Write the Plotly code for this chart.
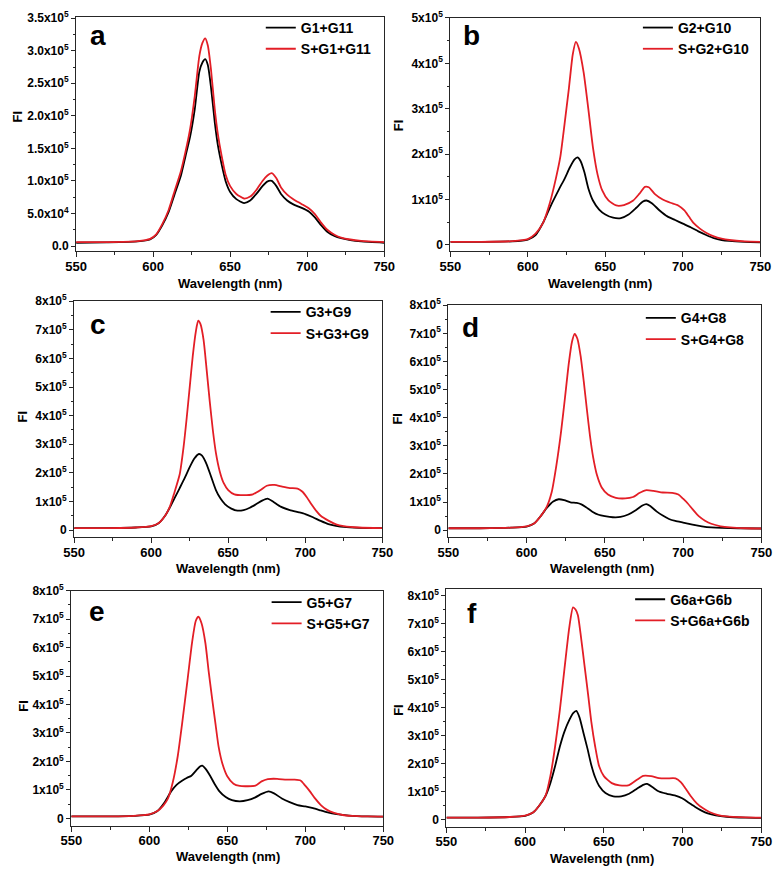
import plotly.graph_objects as go

SCALE = 1e5  # values below are FI in units of 1e5

# ---------------- Panel a ----------------
a_black_wl = [550, 570, 590, 598, 602, 606, 610, 614, 618, 621, 624, 627, 630, 632, 633.8, 635.5, 637.5, 640, 642, 644.5, 647, 650, 654, 659, 663, 667, 671, 674, 677, 680, 683, 687, 691, 696, 701, 705, 709, 713, 718, 722, 728, 735, 750]
a_black_fi = [0.05, 0.055, 0.07, 0.1, 0.17, 0.32, 0.52, 0.8, 1.08, 1.38, 1.68, 2.1, 2.68, 2.82, 2.87, 2.78, 2.45, 1.9, 1.55, 1.25, 1.0, 0.83, 0.72, 0.66, 0.7, 0.8, 0.92, 0.99, 1.0, 0.92, 0.8, 0.7, 0.64, 0.59, 0.53, 0.44, 0.32, 0.22, 0.15, 0.12, 0.09, 0.07, 0.05]
a_red_wl = a_black_wl
a_red_fi = [0.06, 0.06, 0.075, 0.11, 0.18, 0.34, 0.55, 0.85, 1.15, 1.45, 1.8, 2.3, 2.92, 3.12, 3.19, 3.08, 2.72, 2.1, 1.72, 1.38, 1.1, 0.92, 0.8, 0.73, 0.76, 0.86, 1.0, 1.08, 1.12, 1.04, 0.9, 0.79, 0.72, 0.65, 0.58, 0.49, 0.36, 0.25, 0.17, 0.13, 0.1, 0.08, 0.06]

# ---------------- Panel b ----------------
b_black_wl = [550, 570, 590, 600, 605, 610, 615, 620, 624, 627, 630, 632, 634, 636.5, 639, 642, 646, 650, 655, 660, 665, 670, 674, 676.5, 680, 685, 690, 695, 700, 705, 710, 715, 720, 725, 730, 740, 750]
b_black_fi = [0.07, 0.07, 0.08, 0.12, 0.22, 0.5, 0.88, 1.22, 1.48, 1.7, 1.88, 1.93, 1.85, 1.6, 1.25, 0.98, 0.78, 0.67, 0.6, 0.59, 0.67, 0.82, 0.95, 0.98, 0.92, 0.76, 0.63, 0.55, 0.47, 0.39, 0.3, 0.22, 0.15, 0.11, 0.09, 0.07, 0.06]
b_red_wl = [550, 570, 590, 600, 605, 610, 614, 618, 621, 624, 626.5, 629, 631, 633, 636, 639, 642, 645, 648, 652, 657, 662, 668, 672, 675.5, 678, 682, 687, 692, 697, 701, 704, 707, 711, 715, 720, 725, 730, 740, 750]
b_red_fi = [0.07, 0.07, 0.085, 0.13, 0.25, 0.5, 0.9, 1.45, 1.95, 2.75, 3.45, 4.2, 4.47, 4.32, 3.8, 3.0, 2.15, 1.55, 1.2, 0.98, 0.87, 0.88, 0.98, 1.13, 1.28, 1.27, 1.12, 1.0, 0.93, 0.87, 0.76, 0.62, 0.48, 0.36, 0.27, 0.19, 0.14, 0.11, 0.08, 0.07]

# ---------------- Panel c ----------------
c_black_wl = [550, 570, 590, 600, 605, 609, 612, 615, 618.5, 622, 625, 628, 631, 633, 636, 639, 642, 645, 648, 652, 656, 660, 664, 668, 672, 675.5, 679, 684, 690, 696, 700, 705, 710, 715, 720, 725, 735, 750]
c_black_fi = [0.07, 0.07, 0.09, 0.13, 0.25, 0.5, 0.78, 1.1, 1.47, 1.85, 2.2, 2.5, 2.66, 2.6, 2.3, 1.85, 1.4, 1.1, 0.9, 0.75, 0.68, 0.7, 0.78, 0.9, 1.03, 1.1, 1.0, 0.82, 0.7, 0.62, 0.56, 0.45, 0.32, 0.21, 0.15, 0.11, 0.08, 0.07]
c_red_wl = [550, 570, 590, 600, 605, 609, 612, 615, 618.5, 621, 623, 625, 627, 629, 630.5, 632, 634, 636, 638, 640, 642, 644.5, 647, 650, 654, 660, 666, 671, 675, 680, 685, 690, 695, 698, 701, 704, 707, 710, 715, 720, 725, 735, 750]
c_red_fi = [0.07, 0.07, 0.09, 0.14, 0.25, 0.5, 0.8, 1.3, 1.95, 2.9, 3.9, 5.0, 6.1, 6.95, 7.32, 7.2, 6.65, 5.6, 4.5, 3.5, 2.7, 2.05, 1.65, 1.4, 1.25, 1.22, 1.25, 1.4, 1.55, 1.58, 1.52, 1.47, 1.45, 1.35, 1.15, 0.9, 0.68, 0.5, 0.33, 0.2, 0.14, 0.09, 0.07]

# ---------------- Panel d ----------------
d_black_wl = [550, 570, 590, 600, 605, 609, 613, 617, 620.5, 624, 628, 632, 635, 638, 642, 646, 650, 655, 660, 665, 670, 674, 676.5, 679, 683, 687, 691, 695, 700, 706, 712, 718, 725, 735, 750]
d_black_fi = [0.07, 0.07, 0.09, 0.13, 0.25, 0.5, 0.8, 1.02, 1.1, 1.07, 0.99, 0.97, 0.92, 0.82, 0.66, 0.55, 0.5, 0.46, 0.47, 0.56, 0.72, 0.88, 0.93, 0.86, 0.67, 0.52, 0.4, 0.33, 0.27, 0.2, 0.14, 0.1, 0.08, 0.07, 0.06]
d_red_wl = [550, 570, 590, 600, 605, 609, 613, 616, 619, 622, 624.5, 627, 629, 630.7, 632.5, 634.5, 636.5, 638.5, 640.5, 642.5, 645, 648, 652, 657, 663, 668, 672, 676, 681, 687, 693, 697, 700, 703, 706, 710, 714, 718, 724, 730, 740, 750]
d_red_fi = [0.07, 0.07, 0.09, 0.14, 0.25, 0.5, 0.85, 1.35, 2.3, 3.5, 4.7, 5.95, 6.7, 6.98, 6.8, 6.2, 5.3, 4.3, 3.35, 2.6, 1.95, 1.52, 1.27, 1.15, 1.13, 1.18, 1.32, 1.42, 1.4, 1.34, 1.33, 1.27, 1.12, 0.95, 0.75, 0.5, 0.34, 0.23, 0.14, 0.1, 0.07, 0.06]

# ---------------- Panel e ----------------
e_black_wl = [550, 570, 590, 600, 605, 610, 614, 617.5, 621, 624, 627, 630, 632.5, 634, 636, 639, 642, 645, 649, 653, 658, 663, 668, 672, 676.5, 680, 685, 690, 695, 700, 705, 710, 715, 720, 728, 740, 750]
e_black_fi = [0.07, 0.07, 0.09, 0.13, 0.25, 0.58, 0.95, 1.18, 1.32, 1.42, 1.5, 1.68, 1.82, 1.85, 1.75, 1.5, 1.2, 0.95, 0.75, 0.64, 0.6, 0.64, 0.74, 0.86, 0.95, 0.88, 0.7, 0.57, 0.47, 0.42, 0.36, 0.28, 0.2, 0.15, 0.1, 0.07, 0.06]
e_red_wl = [550, 570, 590, 600, 605, 609, 612, 615, 618.3, 621, 624.5, 627.5, 629.8, 631.5, 633.5, 636, 638, 640.2, 642.5, 644.5, 647, 650, 654, 658, 663, 668, 672, 676, 682, 688, 693, 697, 700, 703, 706, 710, 714, 718, 724, 730, 740, 750]
e_red_fi = [0.07, 0.07, 0.09, 0.14, 0.25, 0.45, 0.7, 1.25, 2.2, 3.3, 4.85, 6.2, 6.93, 7.08, 6.85, 6.15, 5.2, 4.25, 3.3, 2.5, 1.9, 1.48, 1.22, 1.14, 1.13, 1.15, 1.3, 1.38, 1.39, 1.36, 1.36, 1.33, 1.15, 0.95, 0.72, 0.47, 0.3, 0.2, 0.12, 0.09, 0.07, 0.06]

# ---------------- Panel f ----------------
f_black_wl = [550, 570, 590, 600, 605, 609, 613, 616, 619, 622, 625, 628, 630.5, 632.5, 634.5, 637, 639.5, 642, 644.5, 647, 651, 656, 661, 666, 671, 675, 677.5, 681, 685, 690, 695, 700, 704, 708, 712, 716, 721, 728, 740, 750]
f_black_fi = [0.07, 0.07, 0.09, 0.13, 0.25, 0.5, 0.85, 1.3, 1.9, 2.6, 3.15, 3.55, 3.8, 3.88, 3.65, 3.1, 2.55, 1.95, 1.5, 1.2, 0.95, 0.83, 0.83, 0.92, 1.1, 1.24, 1.27, 1.15, 1.0, 0.92, 0.86, 0.75, 0.6, 0.45, 0.32, 0.22, 0.15, 0.1, 0.07, 0.06]
f_red_wl = [550, 570, 590, 600, 605, 609, 613, 616, 619, 622, 625, 628, 630.4, 632, 633.5, 635.5, 637.7, 640, 642, 644.5, 647, 650, 655, 660, 666, 671, 675, 680, 685, 690, 695.5, 699, 702, 705, 709, 713, 717, 722, 728, 740, 750]
f_red_fi = [0.07, 0.07, 0.09, 0.14, 0.25, 0.5, 0.86, 1.55, 2.6, 3.9, 5.4, 6.85, 7.58, 7.5, 7.3, 6.5, 5.5, 4.45, 3.5, 2.6, 1.9, 1.55, 1.3, 1.22, 1.23, 1.42, 1.56, 1.55, 1.48, 1.47, 1.47, 1.33, 1.1, 0.85, 0.58, 0.4, 0.27, 0.17, 0.11, 0.08, 0.07]

panel_letters = ["a", "b", "c", "d", "e", "f"]
black_names = ["G1+G11", "G2+G10", "G3+G9", "G4+G8", "G5+G7", "G6a+G6b"]
red_names = ["S+G1+G11", "S+G2+G10", "S+G3+G9", "S+G4+G8", "S+G5+G7", "S+G6a+G6b"]

x_ticks = [550, 600, 650, 700, 750]
y_ticks_a = [0, 50000, 100000, 150000, 200000, 250000, 300000, 350000]
y_labels_a = ["0.0", "5.0x10<sup>4</sup>", "1.0x10<sup>5</sup>", "1.5x10<sup>5</sup>",
              "2.0x10<sup>5</sup>", "2.5x10<sup>5</sup>", "3.0x10<sup>5</sup>", "3.5x10<sup>5</sup>"]
y_ticks_b = [0, 100000, 200000, 300000, 400000, 500000]
y_labels_b = ["0"] + ["%dx10<sup>5</sup>" % i for i in range(1, 6)]
y_ticks_cf = [i * 100000 for i in range(9)]
y_labels_cf = ["0"] + ["%dx10<sup>5</sup>" % i for i in range(1, 9)]

black_series = [(a_black_wl, a_black_fi), (b_black_wl, b_black_fi), (c_black_wl, c_black_fi),
                (d_black_wl, d_black_fi), (e_black_wl, e_black_fi), (f_black_wl, f_black_fi)]
red_series = [(a_red_wl, a_red_fi), (b_red_wl, b_red_fi), (c_red_wl, c_red_fi),
              (d_red_wl, d_red_fi), (e_red_wl, e_red_fi), (f_red_wl, f_red_fi)]

# ---------------- layout geometry (pixels) ----------------
W, H = 784, 870
# (left, right, top, bottom) of plot frames
frames = [(67, 384, 8, 245), (452, 771, 9, 245),
          (65, 382, 296, 535), (450, 772, 300, 535),
          (62, 383, 589, 827), (448, 772, 587, 828)]
y_ranges = [(-7500, 352000), (-13000, 500000), (-25000, 800000),
            (-25000, 800000), (-25000, 800000), (-25000, 825000)]
y_ticks = [(y_ticks_a, y_labels_a, 25000), (y_ticks_b, y_labels_b, 50000)] + \
          [(y_ticks_cf, y_labels_cf, 50000)] * 4
legend_pos = [(257, 3), (645, 3), (262, 291), (648, 297), (263, 585), (637, 582)]
letter_pos = [(90, 27), (474, 27), (90, 320), (473, 323), (88, 610), (474, 612)]
fi_pos = [(7, 109), (399, 118), (12, 413), (398, 415), (12, 706), (398, 710)]
wl_pos = [(225, 278), (606, 278), (223, 567), (608, 567), (223, 858), (608, 860)]

BOLD = "Liberation Sans, Arial, sans-serif"
RED = "#e31e26"
FRAME = "#262626"

fig = go.Figure()
layout = dict(width=W, height=H, autosize=False, margin=dict(l=0, r=0, t=0, b=0),
              paper_bgcolor="white", plot_bgcolor="white", showlegend=True)
annotations = []

for i in range(6):
    sfx = "" if i == 0 else str(i + 1)
    xa, ya = "x" + sfx, "y" + sfx
    lg = "legend" + sfx
    bw, bf = black_series[i]
    rw, rf = red_series[i]
    fig.add_trace(go.Scatter(x=bw, y=[v * SCALE for v in bf], mode="lines", name=black_names[i],
                             line=dict(color="black", width=1.8, shape="spline", smoothing=0.6),
                             xaxis=xa, yaxis=ya, legend=lg))
    fig.add_trace(go.Scatter(x=rw, y=[v * SCALE for v in rf], mode="lines", name=red_names[i],
                             line=dict(color=RED, width=1.8, shape="spline", smoothing=0.6),
                             xaxis=xa, yaxis=ya, legend=lg))
    l, r, t, b = frames[i]
    tv, tt, minor_d = y_ticks[i]
    layout["xaxis" + sfx] = dict(
        domain=[l / W, r / W], anchor=ya, range=[550, 750],
        tickmode="array", tickvals=x_ticks, ticktext=[str(v) for v in x_ticks],
        ticks="outside", ticklen=5, tickwidth=1, tickcolor=FRAME, ticklabelstandoff=-2,
        minor=dict(tickmode="linear", tick0=550, dtick=25, ticks="outside", ticklen=3, tickwidth=1, tickcolor=FRAME),
        showline=True, mirror=True, linecolor=FRAME, linewidth=1.2,
        showgrid=False, zeroline=False,
        tickfont=dict(family=BOLD, size=13, color="black", weight="bold"))
    layout["yaxis" + sfx] = dict(
        domain=[1 - b / H, 1 - t / H], anchor=xa, range=list(y_ranges[i]),
        tickmode="array", tickvals=tv, ticktext=tt,
        ticks="outside", ticklen=4, tickwidth=1, tickcolor=FRAME,
        minor=dict(tickmode="linear", tick0=0, dtick=minor_d, ticks="outside", ticklen=2.5, tickwidth=1, tickcolor=FRAME),
        showline=True, mirror=True, linecolor=FRAME, linewidth=1.2,
        showgrid=False, zeroline=False,
        tickfont=dict(family=BOLD, size=12, color="black", weight="bold"))
    lx, ly = legend_pos[i]
    layout[lg] = dict(x=lx / W, y=1 - ly / H, xanchor="left", yanchor="top",
                      bgcolor="rgba(0,0,0,0)", borderwidth=0, tracegroupgap=0,
                      itemwidth=30,
                      font=dict(family=BOLD, size=14, color="black", weight="bold"))
    px_, py_ = letter_pos[i]
    annotations.append(dict(text="<b>%s</b>" % panel_letters[i], x=px_ / W, y=1 - py_ / H,
                            xref="paper", yref="paper", xanchor="center", yanchor="middle",
                            showarrow=False, font=dict(family=BOLD, size=28, color="black")))
    fx, fy = fi_pos[i]
    annotations.append(dict(text="<b>FI</b>", x=fx / W, y=1 - fy / H, textangle=-90,
                            xref="paper", yref="paper", xanchor="center", yanchor="middle",
                            showarrow=False, font=dict(family=BOLD, size=13, color="black")))
    wx, wy = wl_pos[i]
    annotations.append(dict(text="<b>Wavelength (nm)</b>", x=wx / W, y=1 - wy / H,
                            xref="paper", yref="paper", xanchor="center", yanchor="middle",
                            showarrow=False, font=dict(family=BOLD, size=13, color="black")))

layout["annotations"] = annotations
fig.update_layout(**layout)
fig.write_html("out.html", config={"displayModeBar": False},
               post_script="document.body.style.margin='0';document.body.style.overflow='hidden';")
